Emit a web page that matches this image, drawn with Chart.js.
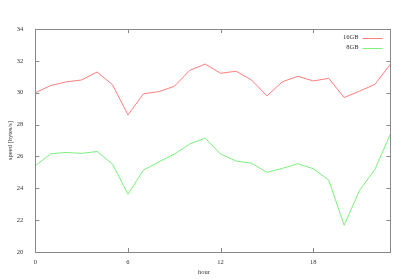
<!DOCTYPE html>
<html>
<head>
<meta charset="utf-8">
<script src="https://cdn.jsdelivr.net/npm/chart.js@4/dist/chart.umd.min.js"></script>
<style>
  html, body { margin: 0; padding: 0; background: #fff; }
  #wrap { width: 400px; height: 279px; }
</style>
</head>
<body>
<div id="wrap"><canvas id="speedChart"></canvas></div>
<script>
// data
const hours = [0, 1, 2, 3, 4, 5, 6, 7, 8, 9, 10, 11, 12, 13, 14, 15, 16, 17, 18, 19, 20, 21, 22, 23];
const speed16GB = [30.0, 30.45, 30.68, 30.8, 31.3, 30.5, 28.6, 29.93, 30.07, 30.4, 31.4, 31.8,
                   31.22, 31.35, 30.8, 29.8, 30.69, 31.03, 30.74, 30.9, 29.7, 30.1, 30.53, 31.8];
const speed8GB = [25.41, 26.17, 26.25, 26.19, 26.31, 25.52, 23.63, 25.14, 25.66, 26.15, 26.78, 27.15,
                  26.15, 25.71, 25.58, 25.0, 25.25, 25.54, 25.23, 24.52, 21.68, 23.88, 25.2, 27.42];
const seriesNames = ['16GB', '8GB'];
const xTitle = 'hour';
const yTitle = 'speed [bytes/s]';

const FONT = 'Liberation Serif';
const textColor = '#333';
const frameColor = '#888';

// gnuplot-like frame: border, inward mirrored ticks, key and x label
const gnuplotFrame = {
    id: 'gnuplotFrame',
    afterDatasetsDraw(chart) {
        const { ctx, chartArea: a, scales } = chart;
        const tl = 4;
        ctx.save();
        ctx.strokeStyle = frameColor;
        ctx.lineWidth = 1;
        ctx.beginPath();
        scales.x.ticks.forEach(t => {
            const px = Math.round(scales.x.getPixelForValue(t.value)) + 0.5;
            ctx.moveTo(px, a.bottom); ctx.lineTo(px, a.bottom - tl);
            ctx.moveTo(px, a.top); ctx.lineTo(px, a.top + tl);
        });
        scales.y.ticks.forEach(t => {
            const py = Math.round(scales.y.getPixelForValue(t.value)) + 0.5;
            ctx.moveTo(a.left, py); ctx.lineTo(a.left + tl, py);
            ctx.moveTo(a.right, py); ctx.lineTo(a.right - tl, py);
        });
        ctx.stroke();
        ctx.strokeRect(Math.round(a.left) + 0.5, Math.round(a.top) + 0.5,
                       Math.round(a.right - a.left), Math.round(a.bottom - a.top));

        // key, top right inside the plot
        ctx.font = '6.5px "' + FONT + '"';
        ctx.textAlign = 'right';
        ctx.textBaseline = 'middle';
        chart.data.datasets.forEach((ds, i) => {
            const y = 37.5 + i * 10;
            ctx.fillStyle = textColor;
            ctx.fillText(ds.label, a.right - 32, y);
            ctx.strokeStyle = ds.borderColor;
            ctx.beginPath();
            ctx.moveTo(a.right - 28, Math.round(y) + 0.5);
            ctx.lineTo(a.right - 8, Math.round(y) + 0.5);
            ctx.stroke();
        });

        // x label sits a bit left of the plot centre, as gnuplot centres on the canvas
        ctx.textAlign = 'center';
        ctx.fillStyle = textColor;
        ctx.fillText(xTitle, 204, 272.5);
        ctx.restore();
    }
};

const ctx = document.getElementById('speedChart').getContext('2d');
new Chart(ctx, {
    type: 'line',
    data: {
        datasets: [
            {
                label: seriesNames[0],
                data: hours.map((h, i) => ({ x: h, y: speed16GB[i] })),
                borderColor: 'rgb(255, 125, 125)',
                borderWidth: 1,
                pointRadius: 0,
                tension: 0
            },
            {
                label: seriesNames[1],
                data: hours.map((h, i) => ({ x: h, y: speed8GB[i] })),
                borderColor: 'rgb(125, 240, 125)',
                borderWidth: 1,
                pointRadius: 0,
                tension: 0
            }
        ]
    },
    options: {
        responsive: true,
        maintainAspectRatio: false,
        animation: false,
        layout: { padding: { top: 29, right: 9.5, left: 0, bottom: 0 } },
        plugins: { legend: { display: false }, tooltip: { enabled: false } },
        scales: {
            x: {
                type: 'linear',
                min: 0,
                max: 23,
                grid: { display: false },
                border: { display: false },
                ticks: {
                    stepSize: 6,
                    includeBounds: false,
                    maxRotation: 0,
                    padding: -2,
                    color: textColor,
                    font: { family: FONT, size: 6.5 }
                },
                afterFit(scale) { scale.height = 27; }
            },
            y: {
                min: 20,
                max: 34,
                grid: { display: false },
                border: { display: false },
                title: {
                    display: true,
                    text: yTitle,
                    color: textColor,
                    font: { family: FONT, size: 6.5 },
                    padding: { top: 6, bottom: 0 }
                },
                ticks: {
                    stepSize: 2,
                    padding: 4,
                    color: textColor,
                    font: { family: FONT, size: 6.5 }
                },
                afterFit(scale) { scale.width = 35.3; }
            }
        }
    },
    plugins: [gnuplotFrame]
});
</script>
</body>
</html>
